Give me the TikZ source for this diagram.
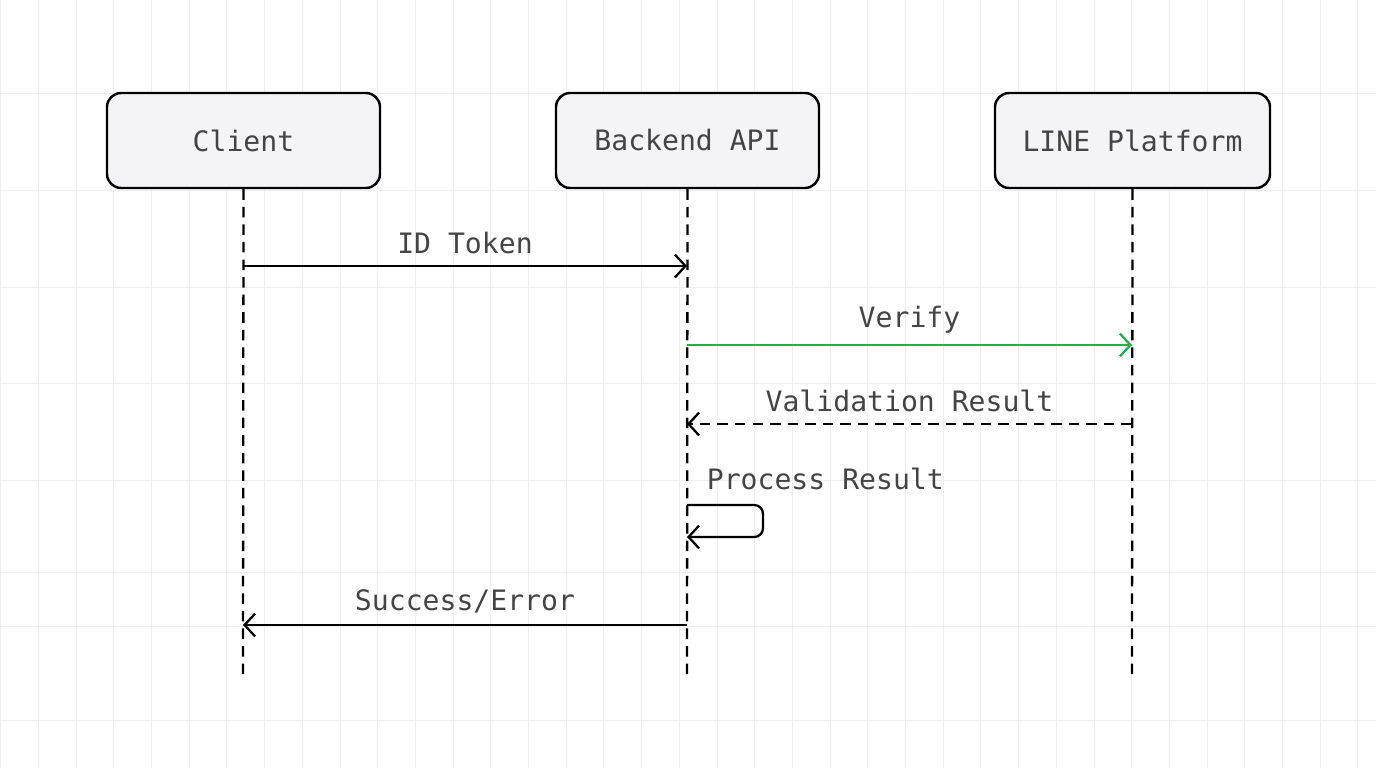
\documentclass[tikz,border=0pt]{standalone}
\usepackage{fontspec}
\setmonofont{DejaVu Sans Mono}
\usetikzlibrary{positioning,arrows.meta}
\definecolor{gridgray}{RGB}{238,238,238}
\definecolor{boxfill}{RGB}{244,244,246}
\definecolor{txtgray}{RGB}{68,68,68}
\definecolor{verifygreen}{RGB}{29,177,80}
\tikzset{
  actor/.style={draw=black, line width=1.4pt, fill=boxfill, rounded corners=8pt,
    minimum width=273*0.02cm, minimum height=95*0.02cm, text=txtgray},
  life/.style={line width=1.3pt, dash pattern=on 6pt off 4pt},
  msg/.style={line width=1.3pt, -{Straight Barb[length=6pt,width=13pt,line width=1.3pt]}},
  lbl/.style={text=txtgray, inner sep=2pt}
}
\begin{document}
\begin{tikzpicture}[x=0.02cm, y=-0.02cm, font=\ttfamily\fontsize{16}{18}\selectfont]
    \useasboundingbox (0,0) rectangle (1376,768);
    % background grid
    \foreach \gx in {0,...,36} \draw[gridgray, line width=0.5pt] (\gx*37.7+0.7,0) -- (\gx*37.7+0.7,768);
    \foreach \gy in {93,190,287,383,480,572,626,720} \draw[gridgray, line width=0.5pt] (0,\gy) -- (1376,\gy);

    % participants
    \node[actor] (client)  at (243.5,140.5) {Client};
    \node[actor, minimum width=263*0.02cm] (backend) at (687.5,140.5) {Backend API};
    \node[actor, minimum width=275*0.02cm] (line)    at (1132.5,140.5) {LINE Platform};

    % lifeline ends
    \coordinate (clientend)  at (243,675);
    \coordinate (backendend) at (687,675);
    \coordinate (lineend)    at (1132,675);
    \draw[life] (client.south) -- (clientend);
    \draw[life] (backend.south) -- (backendend);
    \draw[life] (line.south) -- (lineend);

    % message anchors
    \coordinate (c1) at (243,266);   \coordinate (b1) at (687,266);
    \coordinate (b2) at (687,345);   \coordinate (l2) at (1132,345);
    \coordinate (l3) at (1132,424);  \coordinate (b3) at (687,424);
    \coordinate (b4) at (687,505);   \coordinate (b5) at (687,537);
    \coordinate (b6) at (687,625);   \coordinate (c6) at (243,625);

    \draw[msg] (c1) -- (b1) node[lbl, midway, above=4pt] {ID Token};
    \draw[msg, verifygreen] (b2) -- (l2) node[lbl, midway, above=4pt] {Verify};
    \draw[msg, life] (l3) -- (b3) node[lbl, midway, above=4pt] {Validation Result};
    \draw[msg, rounded corners=5pt] (b4) -- ++(76,0) -- ++(0,32) -- (b5);
    \node[lbl, anchor=west] (proc) at (703,479) {Process Result};
    \draw[msg] (b6) -- (c6) node[lbl, midway, above=4pt] {Success/Error};
\end{tikzpicture}
\end{document}
